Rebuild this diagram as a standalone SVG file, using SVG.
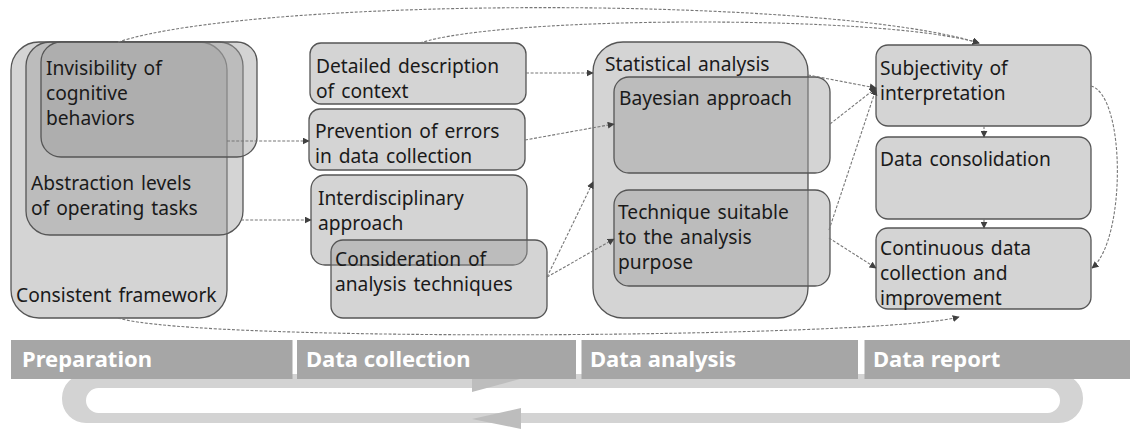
<svg xmlns="http://www.w3.org/2000/svg" width="1140" height="429" viewBox="0 0 1140 429">
  <defs>
    <marker id="arrow" viewBox="0 0 10 10" refX="9" refY="5" markerWidth="7" markerHeight="7" markerUnits="userSpaceOnUse" orient="auto">
      <path d="M0,0 L10,5 L0,10 Z" fill="#404040"/>
    </marker>
    <style>
      .box { fill: #9e9e9e; fill-opacity: 0.44; stroke: #555555; stroke-width: 1.3; }
      .lbl { font-family: "Noto Sans", "Open Sans", sans-serif; font-size: 19.2px; word-spacing: 2px; fill: #1a1a1a; }
      .conn { fill: none; stroke: #777777; stroke-width: 1.1; stroke-dasharray: 3 1.6; marker-end: url(#arrow); }
      .phase { fill: #a6a6a6; }
      .ptxt { font-family: "Noto Sans", "Open Sans", sans-serif; font-size: 22px; font-weight: bold; fill: #ffffff; }
      .cycle { fill: #d3d3d3; }
      .cyc-head { fill: #bdbdbd; }
    </style>
  </defs>

  <!-- process cycle underneath the phase bar -->
  <g id="cycle">
    <path class="cycle" fill-rule="evenodd" d="M86,374 H1059 A24,24 0 0 1 1083,398 V399 A24,24 0 0 1 1059,423 H86 A24,24 0 0 1 62,399 V398 A24,24 0 0 1 86,374 Z M98.5,388 H1047.5 A12.5,12.5 0 0 1 1047.5,413 H98.5 A12.5,12.5 0 0 1 98.5,388 Z"/>
    <path class="cyc-head" d="M472,366 L520,379 L472,392 Z"/>
    <path class="cyc-head" d="M521,408 L521,429 L472,419 Z"/>
  </g>

  <!-- phase bar -->
  <g id="phases">
    <rect class="phase" x="11" y="340" width="281.5" height="39"/>
    <rect class="phase" x="297" y="340" width="279" height="39"/>
    <rect class="phase" x="581.5" y="340" width="276.5" height="39"/>
    <rect class="phase" x="864.5" y="340" width="265.5" height="39"/>
    <text class="ptxt" x="22" y="367">Preparation</text>
    <text class="ptxt" x="306" y="367">Data collection</text>
    <text class="ptxt" x="590" y="367">Data analysis</text>
    <text class="ptxt" x="873" y="367">Data report</text>
  </g>

  <!-- preparation -->
  <g id="consistent-framework">
    <rect class="box" x="11" y="42" width="216" height="276" rx="28"/>
    <text class="lbl" x="16" y="302">Consistent framework</text>
  </g>
  <g id="abstraction-levels">
    <rect class="box" x="26" y="42" width="217" height="193" rx="24"/>
    <text class="lbl" x="31" y="190">Abstraction levels</text>
    <text class="lbl" x="31" y="215">of operating tasks</text>
  </g>
  <g id="invisibility">
    <rect class="box" x="41" y="42" width="216" height="115" rx="20"/>
    <text class="lbl" x="46" y="75">Invisibility of</text>
    <text class="lbl" x="46" y="100">cognitive</text>
    <text class="lbl" x="46" y="125">behaviors</text>
  </g>

  <!-- data collection -->
  <g id="detailed-description">
    <rect class="box" x="310" y="43" width="216" height="61" rx="11"/>
    <text class="lbl" x="316" y="72.5">Detailed description</text>
    <text class="lbl" x="316" y="97.5">of context</text>
  </g>
  <g id="prevention-of-errors">
    <rect class="box" x="309" y="109" width="216" height="61" rx="11"/>
    <text class="lbl" x="315" y="138">Prevention of errors</text>
    <text class="lbl" x="315" y="163">in data collection</text>
  </g>
  <g id="interdisciplinary">
    <rect class="box" x="311" y="175" width="216" height="90" rx="14"/>
    <text class="lbl" x="318" y="204.5">Interdisciplinary</text>
    <text class="lbl" x="318" y="229.5">approach</text>
  </g>
  <g id="consideration">
    <rect class="box" x="331" y="240" width="216" height="78" rx="12"/>
    <text class="lbl" x="335" y="266">Consideration of</text>
    <text class="lbl" x="335" y="291">analysis techniques</text>
  </g>

  <!-- data analysis -->
  <g id="statistical-analysis">
    <rect class="box" x="593" y="42" width="215" height="276" rx="30"/>
    <text class="lbl" x="605" y="71">Statistical analysis</text>
  </g>
  <g id="bayesian">
    <rect class="box" x="614" y="77" width="216" height="96" rx="15"/>
    <text class="lbl" x="619" y="105">Bayesian approach</text>
  </g>
  <g id="technique-suitable">
    <rect class="box" x="614" y="190" width="216" height="96" rx="15"/>
    <text class="lbl" x="618" y="219">Technique suitable</text>
    <text class="lbl" x="618" y="244">to the analysis</text>
    <text class="lbl" x="618" y="269">purpose</text>
  </g>

  <!-- data report -->
  <g id="subjectivity">
    <rect class="box" x="876" y="45" width="215" height="81" rx="12"/>
    <text class="lbl" x="880" y="75">Subjectivity of</text>
    <text class="lbl" x="880" y="100">interpretation</text>
  </g>
  <g id="data-consolidation">
    <rect class="box" x="876" y="137" width="215" height="82" rx="12"/>
    <text class="lbl" x="880" y="166">Data consolidation</text>
  </g>
  <g id="continuous-collection">
    <rect class="box" x="876" y="228" width="215" height="81" rx="12"/>
    <text class="lbl" x="880" y="255">Continuous data</text>
    <text class="lbl" x="880" y="280">collection and</text>
    <text class="lbl" x="880" y="305">improvement</text>
  </g>

  <!-- connectors -->
  <g id="connectors">
    <path class="conn" d="M118,42 C260,-4 830,-4 979,43"/>
    <path class="conn" d="M420,43 C500,16 880,14 979,43"/>
    <path class="conn" d="M118,318 C200,343 880,338 959,317"/>
    <path class="conn" d="M227,141 L309,141"/>
    <path class="conn" d="M241,220 L311,220"/>
    <path class="conn" d="M526,73 L593,73"/>
    <path class="conn" d="M525,140 L614,124"/>
    <path class="conn" d="M547,277 L593,182"/>
    <path class="conn" d="M547,277 L614,239"/>
    <path class="conn" d="M808,75 L876,88"/>
    <path class="conn" d="M830,124 L876,88"/>
    <path class="conn" d="M829,230 L876,89"/>
    <path class="conn" d="M829,238 L876,268"/>
    <path class="conn" d="M984,126 L984,137"/>
    <path class="conn" d="M984,219 L984,228"/>
    <path class="conn" d="M1091,86 C1126,96 1126,240 1092,268"/>
  </g>
</svg>
